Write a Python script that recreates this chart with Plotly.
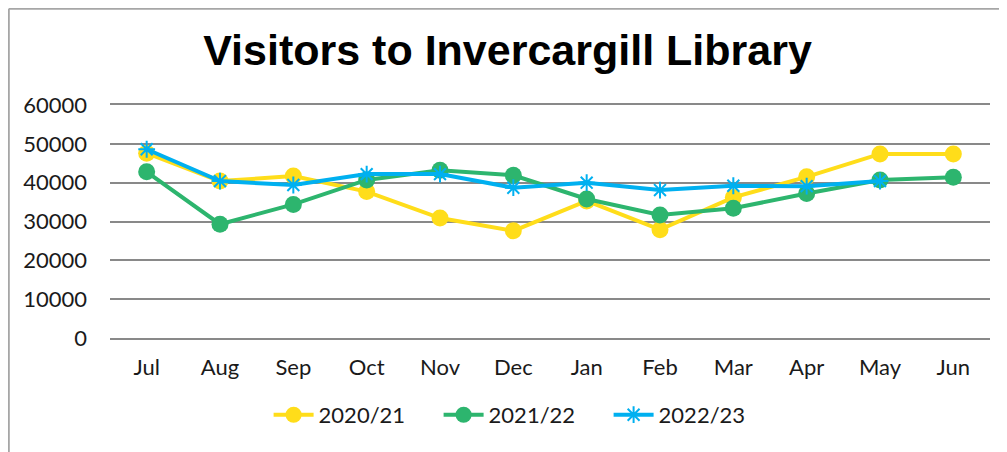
import plotly.graph_objects as go

# Visitantes por mes a la biblioteca
months = ["Jul", "Aug", "Sep", "Oct", "Nov", "Dec", "Jan", "Feb", "Mar", "Apr", "May", "Jun"]

visitors_2020_21 = [47600, 40400, 41700, 37700, 30900, 27600, 35300, 27900, 36200, 41500, 47400, 47400]
visitors_2021_22 = [42800, 29300, 34400, 40700, 43200, 41900, 35800, 31700, 33400, 37200, 40700, 41400]
visitors_2022_23 = [48600, 40400, 39400, 42200, 42200, 38700, 40000, 38100, 39200, 39100, 40400, None]

yellow = "#FFDD1A"
green = "#2DB56E"
blue = "#00B0F0"

fig = go.Figure()
fig.add_trace(go.Scatter(x=months, y=visitors_2020_21, name="2020/21", mode="lines+markers",
                         line=dict(color=yellow, width=4),
                         marker=dict(color=yellow, size=17, symbol="circle")))
fig.add_trace(go.Scatter(x=months, y=visitors_2021_22, name="2021/22", mode="lines+markers",
                         line=dict(color=green, width=4),
                         marker=dict(color=green, size=17, symbol="circle")))
fig.add_trace(go.Scatter(x=months, y=visitors_2022_23, name="2022/23", mode="lines+markers",
                         line=dict(color=blue, width=4),
                         marker=dict(color=blue, size=14, symbol="asterisk-open",
                                     line=dict(color=blue, width=2))))

fig.update_layout(
    width=999, height=444,
    margin=dict(l=102, r=17, t=97, b=114),
    paper_bgcolor="white", plot_bgcolor="white",
    font=dict(family="Lato, Open Sans, sans-serif", size=22, color="#1a1a1a"),
    title=dict(text="<b>Visitors to Invercargill Library</b>",
               font=dict(family="Liberation Sans Narrow, Arial Narrow, sans-serif", size=43, color="black"),
               x=0.5, xanchor="center", y=1 - 42 / 444, yanchor="middle"),
    showlegend=True,
    legend=dict(orientation="h", x=0.47, xanchor="center", y=-0.24, yanchor="top",
                font=dict(size=22), itemwidth=40, entrywidth=115),
    shapes=[
        dict(type="line", xref="paper", yref="paper", x0=-0.115, x1=1.1, y0=1.413, y1=1.413,
             line=dict(color="#A6A6A6", width=2)),
        dict(type="line", xref="paper", yref="paper", x0=-0.115, x1=-0.115, y0=-0.5, y1=1.413,
             line=dict(color="#A6A6A6", width=2)),
    ],
)
# las líneas superior e inferior hacen de rejilla en 0 y 60000
fig.update_xaxes(range=[-0.5, 11.5], showgrid=False, zeroline=False, ticks="",
                 showline=True, mirror=True, linecolor="#898989", linewidth=2,
                 ticklabelstandoff=9)
fig.update_yaxes(range=[0, 60000], dtick=10000,
                 showgrid=True, gridcolor="#898989", gridwidth=2,
                 zeroline=False, showline=False, ticks="", ticklabelstandoff=22,
                 tickformat="d")

fig.write_html("out.html")
